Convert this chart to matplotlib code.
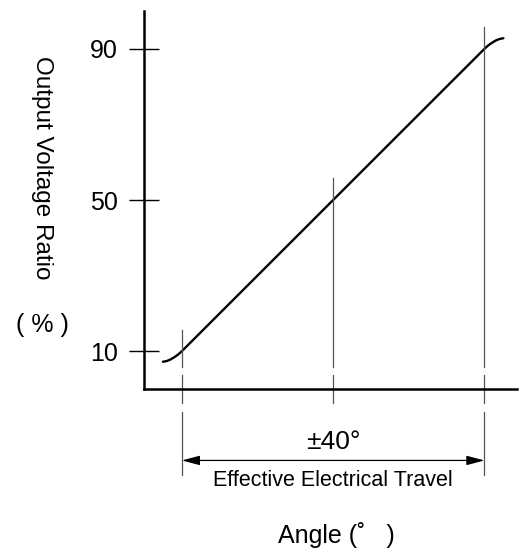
import numpy as np
import matplotlib.pyplot as plt
from matplotlib import font_manager

# pick a narrow face if present
names = {f.name for f in font_manager.fontManager.ttflist}
FONT = 'Liberation Sans Narrow' if 'Liberation Sans Narrow' in names else 'Liberation Sans'
plt.rcParams['font.family'] = [FONT, 'DejaVu Sans']

# curve (angle in degrees, ratio in %)
angle = [-45, -44, -43, -42, -41, -40, 40, 41, 42, 43, 44, 45]
ratio = [7.2, 7.4, 7.8, 8.4, 9.1, 10, 90, 90.9, 91.6, 92.2, 92.6, 92.8]

yticks = [10, 50, 90]
guide_x = [-40, 0, 40]
guide_y = [10, 50, 90]
travel = 40

fig = plt.figure(figsize=(5.19, 5.51), dpi=100)
ax = fig.add_axes([144/519, 1-389/551, (517-144)/519, (389-11)/551])

ax.plot(angle, ratio, color='black', lw=1.7, solid_capstyle='round')

# guide lines through the curve, broken below the axis
for gx, gy in zip(guide_x, guide_y):
    segs = [(gy + 5.7, 5.8), (3.6, -3.8)]
    if gx != 0:
        segs.append((-6.2, -22.8))
    for y0, y1 in segs:
        ax.plot([gx, gx], [y0, y1], color='#555555', lw=0.9, clip_on=False)

ax.annotate('', xy=(-travel, -18.9), xytext=(travel, -18.9),
            arrowprops=dict(arrowstyle='<|-|>,head_length=0.68,head_width=0.18',
                            color='black', lw=0.9,
                            mutation_scale=16, shrinkA=0, shrinkB=0),
            annotation_clip=False)
ax.text(0, -14.0, '±40°', ha='center', va='center', fontsize=19)
ax.text(0, -24.2, 'Effective Electrical Travel', ha='center', va='center', fontsize=15.5)

ax.set_xlim(-50, 48.6)
ax.set_ylim(0, 100)
ax.set_xticks([])
ax.set_yticks(yticks)
ax.tick_params(axis='y', direction='inout', length=22, width=1.0, pad=8, labelsize=18)
for s in ['top', 'right']:
    ax.spines[s].set_visible(False)
for s in ['left', 'bottom']:
    ax.spines[s].set_linewidth(1.8)

fig.text(42/519, 1-168/551, 'Output Voltage Ratio', rotation=-90,
         ha='center', va='center', fontsize=17.5)
fig.text(42/519, 1-325/551, '( % )', ha='center', va='center', fontsize=18)
fig.text(336/519, 1-535/551, 'Angle (˚   )', ha='center', va='center', fontsize=18)

fig.savefig('out.png', dpi=100)
